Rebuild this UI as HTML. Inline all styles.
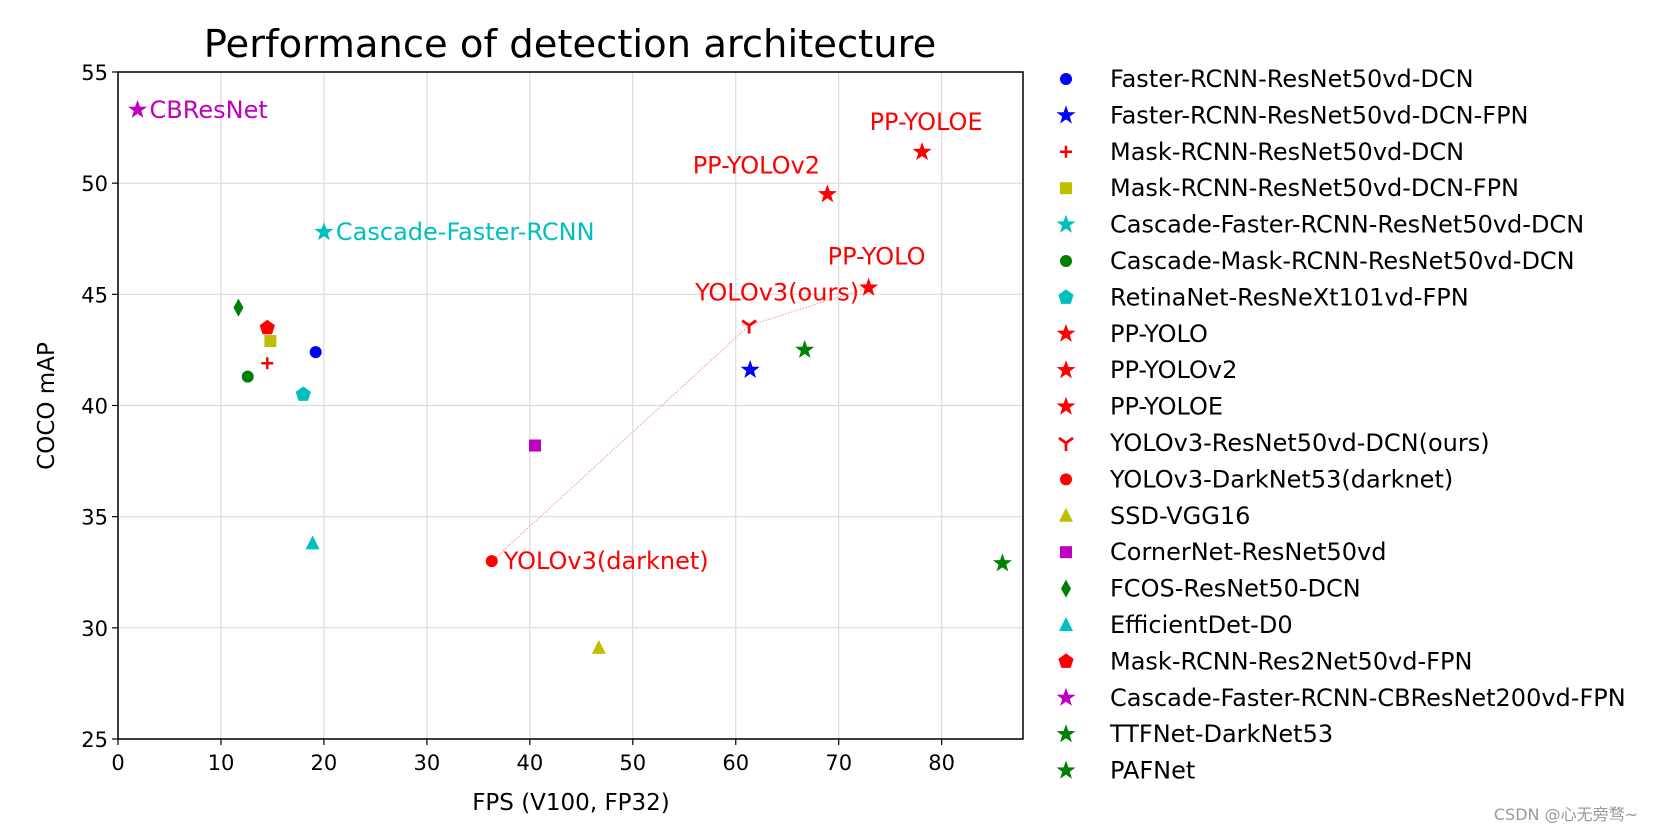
<!DOCTYPE html>
<html><head><meta charset="utf-8"><style>
html,body{margin:0;padding:0;background:#fff;}
svg{display:block;font-family:"DejaVu Sans","Liberation Sans","Noto Sans CJK SC",sans-serif;}
</style></head><body>
<svg id="chart" width="1654" height="832" viewBox="0 0 1654 832">
<g id="grid"></g>
<g id="axes"></g>
<g id="marks"></g>
<g id="legend"></g>
<text x="570" y="57" font-size="38.5" text-anchor="middle">Performance of detection architecture</text>
<text x="571" y="810" font-size="23" text-anchor="middle">FPS (V100, FP32)</text>
<text x="0" y="0" font-size="23" text-anchor="middle" transform="translate(54,406) rotate(-90)">COCO mAP</text>
<text x="1638" y="820" font-size="16" fill="#999" text-anchor="end">CSDN @心无旁骛~</text>
</svg>
<script>
const names=["Faster-RCNN-ResNet50vd-DCN","Faster-RCNN-ResNet50vd-DCN-FPN","Mask-RCNN-ResNet50vd-DCN","Mask-RCNN-ResNet50vd-DCN-FPN","Cascade-Faster-RCNN-ResNet50vd-DCN","Cascade-Mask-RCNN-ResNet50vd-DCN","RetinaNet-ResNeXt101vd-FPN","PP-YOLO","PP-YOLOv2","PP-YOLOE","YOLOv3-ResNet50vd-DCN(ours)","YOLOv3-DarkNet53(darknet)","SSD-VGG16","CornerNet-ResNet50vd","FCOS-ResNet50-DCN","EfficientDet-D0","Mask-RCNN-Res2Net50vd-FPN","Cascade-Faster-RCNN-CBResNet200vd-FPN","TTFNet-DarkNet53","PAFNet"];
const fps=[19.2,61.4,14.5,14.8,20.0,12.6,18.0,72.9,68.9,78.1,61.3,36.3,46.7,40.5,11.7,18.9,14.5,1.9,66.7,85.9];
const mAP=[42.4,41.6,41.9,42.9,47.8,41.3,40.5,45.3,49.5,51.4,43.6,33.0,29.1,38.2,44.4,33.8,43.5,53.3,42.5,32.9];
const colors=["#0000ff","#0000ff","#ff0000","#bfbf00","#00bfbf","#008000","#00bfbf","#ff0000","#ff0000","#ff0000","#ff0000","#ff0000","#bfbf00","#bf00bf","#008000","#00bfbf","#ff0000","#bf00bf","#008000","#008000"];
const shapes=["circle","star","plus","square","star","circle","pentagon","star","star","star","tri_down","circle","triangle","square","thin_diamond","triangle","pentagon","star","star","star"];
const annotations=[{i:17,text:"CBResNet",dx:12,dy:8,anchor:"start"},{i:4,text:"Cascade-Faster-RCNN",dx:12,dy:8,anchor:"start"},{i:11,text:"YOLOv3(darknet)",dx:12,dy:8,anchor:"start"},{i:9,text:"PP-YOLOE",dx:4,dy:-22,anchor:"middle"},{i:8,text:"PP-YOLOv2",dx:-71,dy:-21,anchor:"middle"},{i:7,text:"PP-YOLO",dx:8,dy:-23,anchor:"middle"},{i:10,text:"YOLOv3(ours)",dx:28,dy:-25,anchor:"middle"}];
const linkPath=[11,10,7];
const xTicks=[0,10,20,30,40,50,60,70,80];
const yTicks=[25,30,35,40,45,50,55];
const xMin=0,xMax=87.9,yMin=25,yMax=55;
const L=118,R=1023,T=72,B=739;
const NS="http://www.w3.org/2000/svg";
const X=v=>L+(v-xMin)/(xMax-xMin)*(R-L);
const Y=v=>B-(v-yMin)/(yMax-yMin)*(B-T);
function mk(tag,attrs,parent){const e=document.createElementNS(NS,tag);for(const k in attrs)e.setAttribute(k,attrs[k]);parent.appendChild(e);return e;}
const grid=document.getElementById('grid'),axes=document.getElementById('axes'),marks=document.getElementById('marks'),legend=document.getElementById('legend');
xTicks.forEach(t=>{const x=X(t);
 let g=mk('line',{x1:x,x2:x,y1:T,y2:B,stroke:'#dcdcdc','stroke-width':1.2},grid);
 
 let tk=mk('line',{x1:x,x2:x,y1:B,y2:B+6,stroke:'#000','stroke-width':1.2},axes);
 
 let lb=mk('text',{x:x,y:B+31,'font-size':21,'text-anchor':'middle'},axes);lb.textContent=t;
 });
yTicks.forEach(t=>{const y=Y(t);
 let g=mk('line',{x1:L,x2:R,y1:y,y2:y,stroke:'#dcdcdc','stroke-width':1.2},grid);
 
 let tk=mk('line',{x1:L-6,x2:L,y1:y,y2:y,stroke:'#000','stroke-width':1.2},axes);
 
 let lb=mk('text',{x:L-10,y:y+8,'font-size':21,'text-anchor':'end'},axes);lb.textContent=t;
 });
const frame=mk('rect',{x:L,y:T,width:R-L,height:B-T,fill:'none',stroke:'#000','stroke-width':1.5},axes);

const lk=mk('polyline',{points:linkPath.map(i=>X(fps[i])+','+Y(mAP[i])).join(' '),fill:'none',stroke:'#ff9090','stroke-width':1,'stroke-dasharray':'1.5 1.5'},marks);

function star(cx,cy,r){let p=[];for(let k=0;k<10;k++){const a=-Math.PI/2+k*Math.PI/5;const rr=k%2?r*0.4:r;p.push((cx+rr*Math.cos(a)).toFixed(1)+','+(cy+rr*Math.sin(a)).toFixed(1));}return p.join(' ');}
function poly(cx,cy,r,n){let p=[];for(let k=0;k<n;k++){const a=-Math.PI/2+k*2*Math.PI/n;p.push((cx+r*Math.cos(a)).toFixed(1)+','+(cy+r*Math.sin(a)).toFixed(1));}return p.join(' ');}
function marker(shape,cx,cy,c,parent){let e;
 if(shape==='circle')e=mk('circle',{cx:cx,cy:cy,r:6,fill:c},parent);
 else if(shape==='star')e=mk('polygon',{points:star(cx,cy,10),fill:c},parent);
 else if(shape==='square')e=mk('rect',{x:cx-6,y:cy-6,width:12,height:12,fill:c},parent);
 else if(shape==='pentagon')e=mk('polygon',{points:poly(cx,cy,8,5),fill:c},parent);
 else if(shape==='triangle')e=mk('polygon',{points:`${cx},${cy-8} ${cx+7},${cy+6} ${cx-7},${cy+6}`,fill:c},parent);
 else if(shape==='thin_diamond')e=mk('polygon',{points:`${cx},${cy-9} ${cx+5},${cy} ${cx},${cy+9} ${cx-5},${cy}`,fill:c},parent);
 else if(shape==='plus')e=mk('path',{d:`M${cx-6} ${cy}H${cx+6}M${cx} ${cy-6}V${cy+6}`,stroke:c,'stroke-width':2.5,fill:'none'},parent);
 else e=mk('path',{d:`M${cx} ${cy}V${cy+8}M${cx} ${cy}L${cx-7} ${cy-5}M${cx} ${cy}L${cx+7} ${cy-5}`,stroke:c,'stroke-width':2.8,fill:'none'},parent);
 return e;}
names.forEach((n,i)=>{const e=marker(shapes[i],X(fps[i]),Y(mAP[i]),colors[i],marks);
 
 });
annotations.forEach(a=>{const t=mk('text',{x:X(fps[a.i])+a.dx,y:Y(mAP[a.i])+a.dy,'font-size':24,fill:colors[a.i],'text-anchor':a.anchor},marks);t.textContent=a.text;
 });
names.forEach((n,i)=>{const y=79+i*36.4;
 const g=mk('g',{},legend);
 
 marker(shapes[i],1066,y,colors[i],g);
 const t=mk('text',{x:1110,y:y+8,'font-size':24},g);t.textContent=n;});
</script>
</body></html>
